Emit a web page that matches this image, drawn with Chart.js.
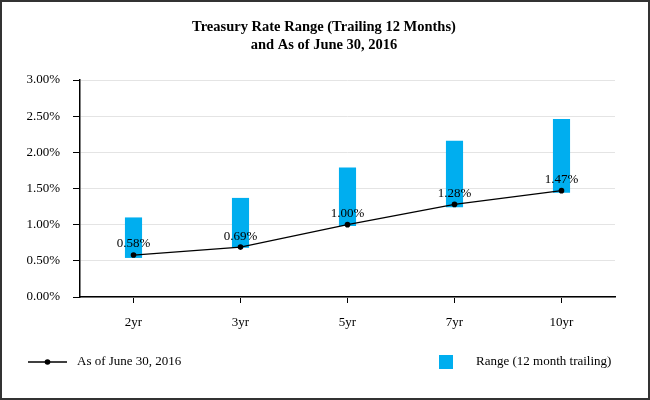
<!DOCTYPE html>
<html><head><meta charset="utf-8">
<script src="https://cdn.jsdelivr.net/npm/chart.js@4"></script>
<style>html,body{margin:0;padding:0;background:#fff}#wrap{width:650px;height:400px;position:relative}</style>
</head><body><div id="wrap"><canvas id="c" width="650" height="400"></canvas></div>
<script>
const categories = ['2yr','3yr','5yr','7yr','10yr'];
const rangeLow  = [0.54, 0.68, 0.98, 1.24, 1.44];
const rangeHigh = [1.10, 1.37, 1.79, 2.16, 2.46];
const asOf      = [0.58, 0.69, 1.00, 1.28, 1.47];
const yTicks    = [0, 0.5, 1, 1.5, 2, 2.5, 3];
const titleLines = ['Treasury Rate Range (Trailing 12 Months)', 'and As of June 30, 2016'];
const lineLabel = 'As of June 30, 2016';
const rangeLabel = 'Range (12 month trailing)';
const BLUE = '#00AEEF';
const SERIF = "'Liberation Serif', 'Times New Roman', serif";

const extras = {
  id: 'extras',
  afterDatasetsDraw(chart) {
    const ctx = chart.ctx;
    const meta = chart.getDatasetMeta(1);
    ctx.save();
    ctx.font = '13px ' + SERIF;
    ctx.fillStyle = '#000';
    ctx.textAlign = 'center';
    ctx.textBaseline = 'middle';
    meta.data.forEach((pt, i) => {
      ctx.fillText(asOf[i].toFixed(2) + '%', pt.x, pt.y - 11);
    });
    ctx.restore();
  },
  afterDraw(chart) {
    const ctx = chart.ctx;
    ctx.save();
    // title
    ctx.fillStyle = '#000';
    ctx.font = 'bold 14.5px ' + SERIF;
    ctx.textAlign = 'center'; ctx.textBaseline = 'middle';
    ctx.fillText(titleLines[0], 324, 27.5);
    ctx.fillText(titleLines[1], 324, 45);
    // legend
    const ly = 362;
    ctx.strokeStyle = '#000'; ctx.lineWidth = 1.5;
    ctx.beginPath(); ctx.moveTo(28, ly); ctx.lineTo(67, ly); ctx.stroke();
    ctx.beginPath(); ctx.arc(47.5, ly, 2.8, 0, Math.PI*2); ctx.fill();
    ctx.font = '13px ' + SERIF;
    ctx.textBaseline = 'middle'; ctx.textAlign = 'left';
    ctx.fillText(lineLabel, 77, ly);
    ctx.fillStyle = BLUE;
    ctx.fillRect(439, 355, 14, 14);
    ctx.fillStyle = '#000';
    ctx.fillText(rangeLabel, 476, ly);
    // frame
    ctx.strokeStyle = '#333'; ctx.lineWidth = 2;
    ctx.strokeRect(1, 1, 648, 398);
    ctx.restore();
  }
};

new Chart(document.getElementById('c'), {
  data: {
    labels: categories,
    datasets: [
      {
        type: 'bar', label: rangeLabel,
        data: categories.map((c, i) => [rangeLow[i], rangeHigh[i]]),
        backgroundColor: BLUE, borderWidth: 0,
        barPercentage: 0.16, categoryPercentage: 1, order: 2
      },
      {
        type: 'line', label: lineLabel, data: asOf,
        borderColor: '#000', borderWidth: 1.3, backgroundColor: '#000',
        pointRadius: 2.8, pointBackgroundColor: '#000', pointBorderWidth: 0,
        tension: 0, order: 1
      }
    ]
  },
  options: {
    responsive: false, animation: false, devicePixelRatio: 1,
    layout: { padding: { left: 0, right: 35, top: 80, bottom: 63 } },
    plugins: {
      legend: { display: false }, tooltip: { enabled: false },
      title: { display: false }
    },
    scales: {
      x: {
        offset: true,
        grid: { offset: false, drawOnChartArea: false, color: '#000', tickLength: 6, tickColor: '#000' },
        border: { color: '#000', width: 1.5 },
        ticks: { color: '#000', font: { family: SERIF, size: 13 }, padding: 12 },
        afterFit(s) { s.height = 40; }
      },
      y: {
        min: 0, max: 3,
        afterBuildTicks(s) { s.ticks = yTicks.map(v => ({ value: v })); },
        grid: { color: '#e4e4e4', tickColor: '#000', tickLength: 7, lineWidth: 1 },
        border: { color: '#000', width: 1.5 },
        ticks: { color: '#000', font: { family: SERIF, size: 13 }, padding: 13,
                 callback: v => Number(v).toFixed(2) + '%' },
        afterFit(s) { s.width = 80; }
      }
    }
  },
  plugins: [extras]
});
</script></body></html>
